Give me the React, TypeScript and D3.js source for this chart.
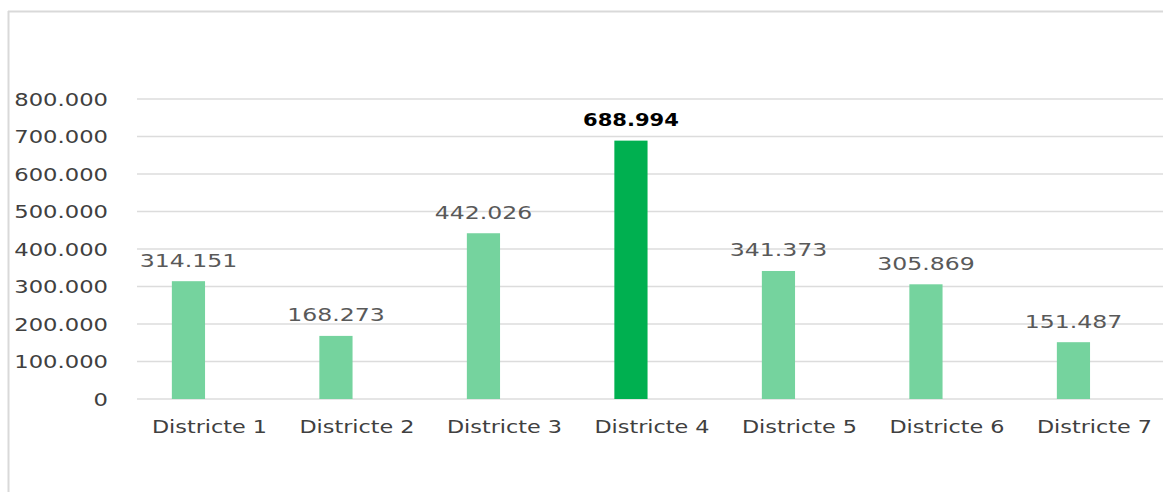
import React from "react";
import * as d3 from "d3";

const categories = ["Districte 1", "Districte 2", "Districte 3", "Districte 4", "Districte 5", "Districte 6", "Districte 7"];
const values = [314151, 168273, 442026, 688994, 341373, 305869, 151487];
const highlighted = ["Districte 4"];
const yTicks = [0, 100000, 200000, 300000, 400000, 500000, 600000, 700000, 800000];

const W = 1163;
const H = 492;

const fmt = (v: number) => d3.format(",")(v).replace(/,/g, ".");

function Stretched({ x, y, sx, anchor, children, ...rest }: any) {
  return (
    <g transform={`translate(${x},${y}) scale(${sx},1)`}>
      <text x={0} y={0} textAnchor={anchor} {...rest}>{children}</text>
    </g>
  );
}

export default function App() {
  const x = d3.scaleBand<string>().domain(categories).range([114.7, 1147.2]).paddingInner(0.775).paddingOuter(0.3875);
  const y = d3.scaleLinear().domain([0, 800000]).range([399, 99]);
  const font = "'DejaVu Sans', Verdana, sans-serif";

  return (
    <svg width={W} height={H} style={{ position: "absolute", left: 0, top: 0, background: "#fff" }} fontFamily={font}>
      <rect x={0} y={0} width={W} height={H} fill="#fff" />
      {/* frame */}
      <line x1={8.5} x2={8.5} y1={11} y2={H} stroke="#D9D9D9" strokeWidth={2} />
      <line x1={8} x2={W} y1={11.5} y2={11.5} stroke="#D9D9D9" strokeWidth={2} />
      {/* gridlines */}
      {yTicks.map((t) => (
        <line key={t} x1={137} x2={W} y1={y(t)} y2={y(t)} stroke="#DCDCDC" strokeWidth={1.5} />
      ))}
      {/* y labels */}
      {yTicks.map((t) => (
        <Stretched key={t} x={108} y={y(t) + 6.5} sx={1.26} anchor="end" fontSize={18} fill="#404040">
          {t === 0 ? "0" : fmt(t)}
        </Stretched>
      ))}
      {/* bars */}
      {categories.map((c, i) => {
        const hi = highlighted.includes(c);
        return (
          <rect key={c} x={x(c)!} y={y(values[i])} width={x.bandwidth()} height={y(0) - y(values[i])}
            fill={hi ? "#00B050" : "#75D39E"} />
        );
      })}
      {/* data labels */}
      {categories.map((c, i) => {
        const hi = highlighted.includes(c);
        return (
          <Stretched key={c} x={x(c)! + x.bandwidth() / 2} y={y(values[i]) - 14.5} sx={hi ? 1.24 : 1.31} anchor="middle"
            fontSize={hi ? 17 : 18} fontWeight={hi ? "bold" : "normal"} fill={hi ? "#000" : "#595959"}>
            {fmt(values[i])}
          </Stretched>
        );
      })}
      {/* category labels */}
      {categories.map((c) => (
        <Stretched key={c} x={x(c)! + x.bandwidth() / 2 + 21} y={432.5} sx={1.24} anchor="middle" fontSize={18} fill="#404040">
          {c}
        </Stretched>
      ))}
    </svg>
  );
}
